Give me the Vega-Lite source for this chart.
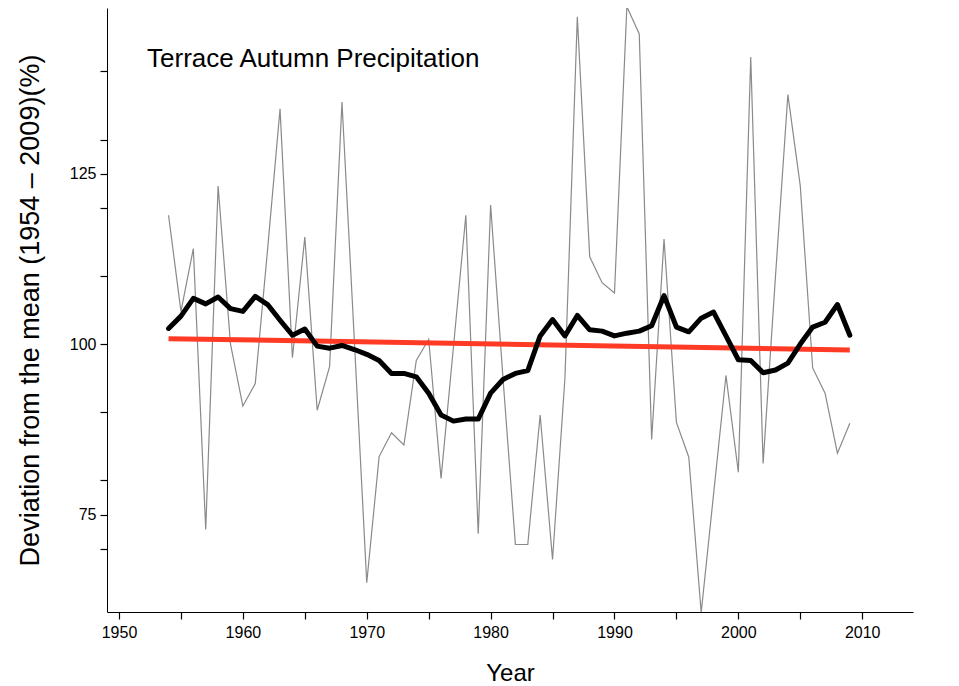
{
  "$schema": "https://vega.github.io/schema/vega-lite/v6.json",
  "width": 806,
  "height": 604,
  "autosize": {"type": "none"},
  "padding": {"left": 107, "top": 8, "right": 46, "bottom": 74},
  "background": "white",
  "config": {
    "view": {"stroke": null},
    "font": "Liberation Sans",
    "axis": {
      "domainColor": "black", "domainWidth": 1, "ticks": true, "tickColor": "black", "tickWidth": 1.2, "tickSize": 7,
      "labelColor": "black", "labelFontSize": 16, "labelFont": "Liberation Sans",
      "titleColor": "black", "titleFont": "Liberation Sans", "titleFontWeight": "normal",
      "grid": false
    }
  },
  "datasets": {
    "series": [
      {"year": 1954, "annual": 118.9, "smooth": 102.3},
      {"year": 1955, "annual": 104.8, "smooth": 104.1},
      {"year": 1956, "annual": 114.0, "smooth": 106.7},
      {"year": 1957, "annual": 72.8, "smooth": 105.9},
      {"year": 1958, "annual": 123.2, "smooth": 106.9},
      {"year": 1959, "annual": 100.0, "smooth": 105.2},
      {"year": 1960, "annual": 90.9, "smooth": 104.8},
      {"year": 1961, "annual": 94.2, "smooth": 107.0},
      {"year": 1962, "annual": 114.0, "smooth": 105.8},
      {"year": 1963, "annual": 134.5, "smooth": 103.5},
      {"year": 1964, "annual": 98.0, "smooth": 101.3},
      {"year": 1965, "annual": 115.7, "smooth": 102.2},
      {"year": 1966, "annual": 90.3, "smooth": 99.7},
      {"year": 1967, "annual": 96.7, "smooth": 99.4},
      {"year": 1968, "annual": 135.5, "smooth": 99.8},
      {"year": 1969, "annual": 100.5, "smooth": 99.2},
      {"year": 1970, "annual": 65.0, "smooth": 98.5},
      {"year": 1971, "annual": 83.5, "smooth": 97.6},
      {"year": 1972, "annual": 87.0, "smooth": 95.7},
      {"year": 1973, "annual": 85.2, "smooth": 95.7},
      {"year": 1974, "annual": 97.6, "smooth": 95.2},
      {"year": 1975, "annual": 100.7, "smooth": 92.8},
      {"year": 1976, "annual": 80.3, "smooth": 89.6},
      {"year": 1977, "annual": 99.6, "smooth": 88.7},
      {"year": 1978, "annual": 118.9, "smooth": 89.0},
      {"year": 1979, "annual": 72.2, "smooth": 89.0},
      {"year": 1980, "annual": 120.4, "smooth": 92.8},
      {"year": 1981, "annual": 95.0, "smooth": 94.8},
      {"year": 1982, "annual": 70.6, "smooth": 95.7},
      {"year": 1983, "annual": 70.6, "smooth": 96.1},
      {"year": 1984, "annual": 89.6, "smooth": 101.2},
      {"year": 1985, "annual": 68.4, "smooth": 103.6},
      {"year": 1986, "annual": 95.0, "smooth": 101.2},
      {"year": 1987, "annual": 148.0, "smooth": 104.2},
      {"year": 1988, "annual": 112.8, "smooth": 102.1},
      {"year": 1989, "annual": 109.0, "smooth": 101.9},
      {"year": 1990, "annual": 107.5, "smooth": 101.2},
      {"year": 1991, "annual": 149.5, "smooth": 101.6},
      {"year": 1992, "annual": 145.5, "smooth": 101.9},
      {"year": 1993, "annual": 86.0, "smooth": 102.7},
      {"year": 1994, "annual": 115.4, "smooth": 107.1},
      {"year": 1995, "annual": 88.5, "smooth": 102.5},
      {"year": 1996, "annual": 83.4, "smooth": 101.8},
      {"year": 1997, "annual": 60.6, "smooth": 103.8},
      {"year": 1998, "annual": 78.0, "smooth": 104.7},
      {"year": 1999, "annual": 95.4, "smooth": 101.2},
      {"year": 2000, "annual": 81.2, "smooth": 97.7},
      {"year": 2001, "annual": 142.1, "smooth": 97.6},
      {"year": 2002, "annual": 82.5, "smooth": 95.8},
      {"year": 2003, "annual": 110.0, "smooth": 96.2},
      {"year": 2004, "annual": 136.6, "smooth": 97.2},
      {"year": 2005, "annual": 123.2, "smooth": 100.0},
      {"year": 2006, "annual": 96.5, "smooth": 102.5},
      {"year": 2007, "annual": 92.8, "smooth": 103.2},
      {"year": 2008, "annual": 84.0, "smooth": 105.8},
      {"year": 2009, "annual": 88.4, "smooth": 101.3}
    ],
    "trend": [
      {"year": 1954, "value": 100.8},
      {"year": 2009, "value": 99.15}
    ],
    "label": [
      {"year": 1952.26, "value": 141.8, "text": "Terrace Autumn Precipitation"}
    ]
  },
  "layer": [
    {
      "data": {"name": "series"},
      "mark": {"type": "line", "color": "#8a8a8a", "strokeWidth": 1.2, "clip": true},
      "encoding": {
        "x": {
          "field": "year", "type": "quantitative",
          "scale": {"domain": [1949.03, 2014.1], "nice": false, "zero": false},
          "axis": {
            "title": "Year", "titleFontSize": 24, "values": [1950, 1955, 1960, 1965, 1970, 1975, 1980, 1985, 1990, 1995, 2000, 2005, 2010],
            "labelExpr": "datum.value % 10 == 0 ? datum.value : ''",
            "ticks": true, "tickColor": "black", "tickSize": 7, "tickWidth": 1.2,
            "labelPadding": 5, "titleY": 61, "titleBaseline": "middle", "labelFlush": false
          }
        },
        "y": {
          "field": "annual", "type": "quantitative",
          "scale": {"domain": [60.7, 149.3], "nice": false, "zero": false},
          "axis": {
            "title": "Deviation from the mean (1954 \u2013 2009)(%)", "titleFontSize": 27,
            "values": [70, 75, 80, 90, 100, 110, 120, 125, 130, 140],
            "labelExpr": "datum.value % 25 == 0 ? datum.value : ''",
            "ticks": true, "tickColor": "black", "tickSize": 7, "tickWidth": 1.2,
            "labelPadding": 4, "titleX": -77, "titleBaseline": "middle", "titleAngle": -90
          }
        }
      }
    },
    {
      "mark": {"type": "rule", "color": "black", "strokeWidth": 1.2, "strokeDash": [12, 7]},
      "encoding": {"y": {"datum": 100}}
    },
    {
      "data": {"name": "trend"},
      "mark": {"type": "line", "color": "#ff3b26", "strokeWidth": 5},
      "encoding": {
        "x": {"field": "year", "type": "quantitative"},
        "y": {"field": "value", "type": "quantitative"}
      }
    },
    {
      "data": {"name": "series"},
      "mark": {"type": "line", "color": "black", "strokeWidth": 5, "strokeJoin": "round", "strokeCap": "round"},
      "encoding": {
        "x": {"field": "year", "type": "quantitative"},
        "y": {"field": "smooth", "type": "quantitative"}
      }
    },
    {
      "data": {"name": "label"},
      "mark": {"type": "text", "align": "left", "baseline": "middle", "fontSize": 26, "font": "Liberation Sans", "color": "black"},
      "encoding": {
        "x": {"field": "year", "type": "quantitative"},
        "y": {"field": "value", "type": "quantitative"},
        "text": {"field": "text"}
      }
    }
  ]
}
